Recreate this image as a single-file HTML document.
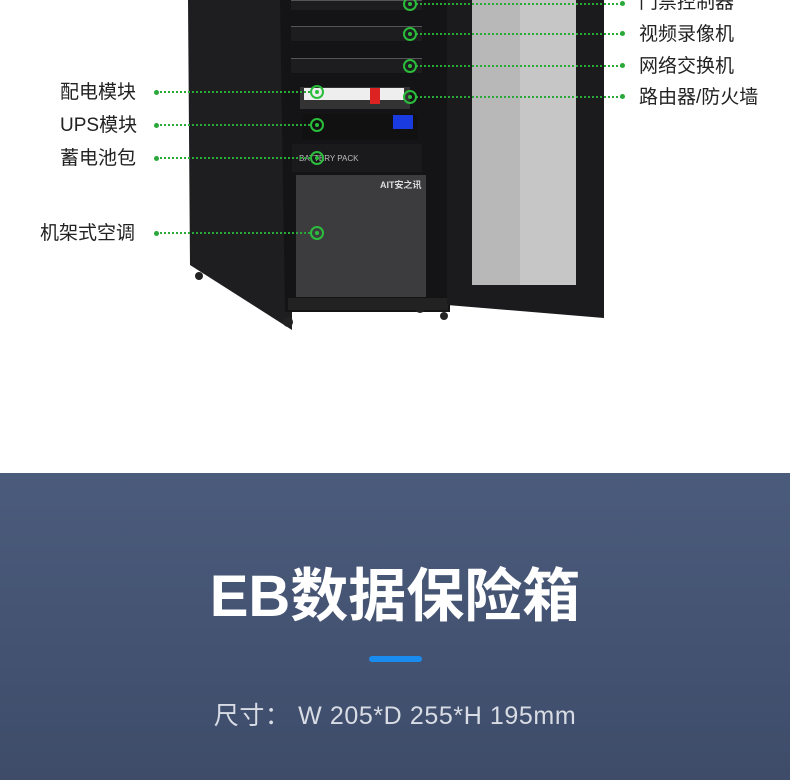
<!DOCTYPE html>
<html><head><meta charset="utf-8"><style>
body{margin:0;width:790px;height:780px;overflow:hidden;background:#fff;font-family:"Liberation Sans","Noto Sans CJK SC",sans-serif;position:relative}
.a{position:absolute}
.lbl{position:absolute;font-size:19px;color:#222;line-height:22px}
.dl{position:absolute;height:0;border-top:2px dotted #2aa83a}
.dot{position:absolute;width:5px;height:5px;border-radius:50%;background:#2aa83a}
.t{position:absolute;width:10px;height:10px;border:2px solid #2bbd3c;border-radius:50%}
.t::after{content:"";position:absolute;left:3px;top:3px;width:4px;height:4px;border-radius:50%;background:#2bbd3c}
.srv{position:absolute;left:291px;width:131px;background:#1d1d1f;border-top:1px solid #555}
</style></head><body>
<svg class="a" style="left:0;top:0" width="790" height="340">
<polygon points="188,0 292,0 292,330 190,265" fill="#1e1e20"/>
<polygon points="280,0 450,0 450,312 285,312" fill="#141416"/>
<rect x="296" y="175" width="130" height="122" fill="#3c3c3e"/>
<rect x="288" y="298" width="160" height="12" fill="#222"/>
<polygon points="447,0 604,0 604,318 447,305" fill="#1b1b1d"/>
<rect x="472" y="0" width="104" height="285" fill="#b8b8b8"/>
<rect x="520" y="0" width="56" height="285" fill="#c6c6c6"/>
<circle cx="199" cy="276" r="4" fill="#222"/><circle cx="288" cy="322" r="5" fill="#222"/><circle cx="420" cy="308" r="5" fill="#222"/><circle cx="444" cy="316" r="4" fill="#222"/>
<rect x="292" y="60" width="130" height="13" fill="#2a2a2c"/>
<rect x="300" y="87" width="110" height="22" fill="#333"/>
<rect x="304" y="88" width="100" height="12" fill="#eee"/>
<rect x="370" y="88" width="10" height="16" fill="#d22"/>
<rect x="302" y="114" width="116" height="26" fill="#111"/>
<rect x="393" y="115" width="20" height="14" fill="#1a3be0"/>
<rect x="292" y="144" width="130" height="28" fill="#1a1a1c"/>
<text x="299" y="161" font-size="8" fill="#bbb">BATTERY PACK</text>
<text x="380" y="188" font-size="9" fill="#ddd" font-weight="bold">AIT安之讯</text>
</svg>
<div class="srv" style="top:0;height:9px"></div>
<div class="srv" style="top:26px;height:14px"></div>
<div class="srv" style="top:58px;height:14px"></div>

<div class="lbl" style="left:60px;top:82px">配电模块</div>
<div class="lbl" style="left:60px;top:115px">UPS模块</div>
<div class="lbl" style="left:60px;top:148px">蓄电池包</div>
<div class="lbl" style="left:40px;top:223px">机架式空调</div>
<div class="dot" style="left:154px;top:90px"></div><div class="dl" style="left:160px;top:91px;width:150px"></div>
<div class="dot" style="left:154px;top:123px"></div><div class="dl" style="left:160px;top:124px;width:150px"></div>
<div class="dot" style="left:154px;top:156px"></div><div class="dl" style="left:160px;top:157px;width:150px"></div>
<div class="dot" style="left:154px;top:231px"></div><div class="dl" style="left:160px;top:232px;width:150px"></div>
<div class="t" style="left:310px;top:85px"></div>
<div class="t" style="left:310px;top:118px"></div>
<div class="t" style="left:310px;top:151px"></div>
<div class="t" style="left:310px;top:226px"></div>

<div class="lbl" style="left:639px;top:-8px">门禁控制器</div>
<div class="lbl" style="left:639px;top:24px">视频录像机</div>
<div class="lbl" style="left:639px;top:56px">网络交换机</div>
<div class="lbl" style="left:639px;top:87px">路由器/防火墙</div>
<div class="dl" style="left:416px;top:3px;width:206px"></div><div class="dot" style="left:620px;top:1px"></div>
<div class="dl" style="left:416px;top:33px;width:206px"></div><div class="dot" style="left:620px;top:31px"></div>
<div class="dl" style="left:416px;top:65px;width:206px"></div><div class="dot" style="left:620px;top:63px"></div>
<div class="dl" style="left:416px;top:96px;width:206px"></div><div class="dot" style="left:620px;top:94px"></div>
<div class="t" style="left:403px;top:-3px"></div>
<div class="t" style="left:403px;top:27px"></div>
<div class="t" style="left:403px;top:59px"></div>
<div class="t" style="left:403px;top:90px"></div>

<div class="a" style="left:0;top:473px;width:790px;height:307px;background:linear-gradient(#4b5b7b,#3e4c6a)"></div>
<div class="a" style="left:0;top:562px;width:790px;text-align:center;color:#fff;font-size:58px;font-weight:bold;line-height:70px">EB数据保险箱</div>
<div class="a" style="left:369px;top:656px;width:53px;height:6px;border-radius:3px;background:#1a8cf0"></div>
<div class="a" style="left:0;top:701px;width:790px;text-align:center;color:#d8dce4;font-size:25px;letter-spacing:0.6px;line-height:30px">尺寸： W 205*D 255*H 195mm</div>
</body></html>
